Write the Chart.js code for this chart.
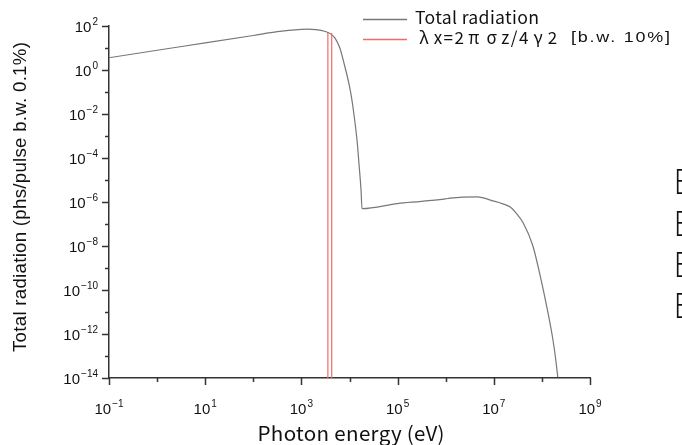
<!DOCTYPE html>
<html>
<head>
<meta charset="utf-8">
<script src="https://cdn.jsdelivr.net/npm/chart.js@4.4.1/dist/chart.umd.min.js"></script>
<style>
  html, body { margin: 0; padding: 0; background: #fff; }
  #wrap { width: 682px; height: 445px; }
</style>
</head>
<body>
<div id="wrap"><canvas id="chartRadiation" width="682" height="445"></canvas></div>
<script>
// Espectro de radiación total (log-log)

// Energía del fotón (eV)
const energies = [
    0.1, 1, 10, 100, 316, 1000, 1320, 2000, 3160, 4000, 5000, 6300, 7900,
    10000, 11200, 12600, 14500, 15800, 17400, 18200,
    1.0e5, 3.16e5, 1.0e6, 1.23e6, 4.5e6, 1.0e7, 1.6e7, 2.2e7, 2.8e7, 4.1e7, 6.5e7,
    9.1e7, 1.29e8, 1.62e8, 1.86e8, 2.14e8
];
// Radiación total (phs/pulse b.w. 0.1%)
const totalRadiation = [
    3.6, 7.9, 17, 37, 55, 70, 72, 69, 56, 45, 28, 10, 1.6,
    0.18, 0.045, 7.1e-3, 5e-4, 5e-5, 3.2e-6, 5e-7,
    8.5e-7, 1.07e-6, 1.4e-6, 1.5e-6, 1.7e-6, 1.1e-6, 8e-7, 5.9e-7, 3.5e-7, 1.1e-7, 1e-8,
    5e-10, 1.4e-11, 1e-12, 1.4e-13, 1.1e-14
];
// Líneas de la banda λx=2πσz/4γ2
const bandEdges = [3550, 4270];
const bandRange = [1e-14, 48];

// Ticks de los ejes (exponentes)
const xTickExps = [-1, 0, 1, 2, 3, 4, 5, 6, 7, 8, 9];
const xLabelExps = [-1, 1, 3, 5, 7, 9];
const yTickExps = [2, 1, 0, -1, -2, -3, -4, -5, -6, -7, -8, -9, -10, -11, -12, -13, -14];
const yLabelExps = [2, 0, -2, -4, -6, -8, -10, -12, -14];

const legendLabels = ['Total radiation', 'λx=2πσz/4γ2', '[b.w. 10%]'];
const xTitle = 'Photon energy (eV)';
const yTitle = 'Total radiation (phs/pulse b.w. 0.1%)';
const sideLetters = ['E', 'E', 'E', 'E'];

const AXIS_COLOR = '#333333';
const CURVE_COLOR = '#777777';
const BAND_COLOR = '#f06a6a';
const GOTHIC = "'Noto Sans CJK JP', 'Noto Sans', sans-serif";
const SANS = "'Liberation Sans', Arial, sans-serif";

// Texto 10^n con superíndice
function drawPower(ctx, exp, x, y, align) {
    ctx.save();
    ctx.font = '15px ' + SANS;
    const base = '10';
    const wb = ctx.measureText(base).width;
    ctx.font = '10px ' + SANS;
    const sup = exp < 0 ? '\u2212' + Math.abs(exp) : String(exp);
    const ws = ctx.measureText(sup).width;
    let left = x;
    if (align === 'right') left = x - wb - ws - 1;
    if (align === 'center') left = x - (wb + ws + 1) / 2;
    ctx.fillStyle = '#111';
    ctx.textAlign = 'left';
    ctx.textBaseline = 'alphabetic';
    ctx.font = '15px ' + SANS;
    ctx.fillText(base, left, y);
    ctx.font = '10px ' + SANS;
    ctx.fillText(sup, left + wb + 1, y - 7);
    ctx.restore();
}

// Texto ajustado a un ancho dado (mitad escala, mitad espaciado)
function fitText(ctx, text, font, x, y, width, align) {
    ctx.save();
    ctx.font = font;
    ctx.textAlign = 'left';
    const w = ctx.measureText(text).width;
    const n = [...text].length;
    let left = x;
    if (align === 'center') left = x - width / 2;
    const s = Math.sqrt(width / w);
    ctx.translate(left, y);
    ctx.scale(s, 1);
    if ('letterSpacing' in ctx) {
        const sp = (width / s - w) / Math.max(n - 1, 1);
        ctx.letterSpacing = sp.toFixed(2) + 'px';
    }
    ctx.fillText(text, 0, 0);
    ctx.restore();
}

// Griegas a ancho completo como en una fuente gótica
function drawWideGreek(ctx, text, font, size, x, y, width) {
    ctx.save();
    ctx.font = font;
    ctx.textAlign = 'left';
    const isGreek = c => /[\u0370-\u03ff]/.test(c);
    let total = 0;
    const adv = [...text].map(c => {
        const a = isGreek(c) ? size : ctx.measureText(c).width + 1;
        total += a;
        return a;
    });
    const k = width / total;
    let cx = x;
    [...text].forEach((c, i) => {
        const gw = ctx.measureText(c).width;
        const a = adv[i] * k;
        ctx.fillText(c, cx + (a - gw) / 2, y);
        cx += a;
    });
    ctx.restore();
}

const axesPlugin = {
    id: 'axesPlugin',
    afterDraw(chart) {
        const ctx = chart.ctx;
        const xs = chart.scales.x;
        const ys = chart.scales.y;
        const area = chart.chartArea;
        ctx.save();
        ctx.strokeStyle = AXIS_COLOR;
        ctx.lineWidth = 1.5;

        // ticks eje Y (hacia afuera)
        yTickExps.forEach(e => {
            const py = Math.round(ys.getPixelForValue(Math.pow(10, e))) + 0.5;
            const len = yLabelExps.includes(e) ? 7 : 4;
            ctx.beginPath();
            ctx.moveTo(area.left, py);
            ctx.lineTo(area.left - len, py);
            ctx.stroke();
        });
        // ticks eje X
        xTickExps.forEach(e => {
            const px = Math.round(xs.getPixelForValue(Math.pow(10, e))) + 0.5;
            const len = xLabelExps.includes(e) ? 7 : 4;
            ctx.beginPath();
            ctx.moveTo(px, area.bottom);
            ctx.lineTo(px, area.bottom + len);
            ctx.stroke();
        });

        yLabelExps.forEach(e => {
            const py = ys.getPixelForValue(Math.pow(10, e));
            drawPower(ctx, e, area.left - 11, py + 6, 'right');
        });
        xLabelExps.forEach(e => {
            const px = xs.getPixelForValue(Math.pow(10, e));
            drawPower(ctx, e, px, area.bottom + 36, 'center');
        });

        // títulos
        ctx.fillStyle = '#111';
        ctx.textBaseline = 'middle';
        fitText(ctx, xTitle, '20px ' + GOTHIC, 351, 433, 187, 'center');

        ctx.save();
        ctx.translate(21, 197);
        ctx.rotate(-Math.PI / 2);
        fitText(ctx, yTitle, '18px ' + SANS, 0, 0, 310, 'center');
        ctx.restore();

        // leyenda
        ctx.lineWidth = 1.3;
        ctx.strokeStyle = CURVE_COLOR;
        ctx.beginPath();
        ctx.moveTo(363, 19.5);
        ctx.lineTo(407, 19.5);
        ctx.stroke();
        ctx.strokeStyle = BAND_COLOR;
        ctx.beginPath();
        ctx.moveTo(363, 39.5);
        ctx.lineTo(407, 39.5);
        ctx.stroke();

        ctx.fillStyle = '#111';
        fitText(ctx, legendLabels[0], '17px ' + GOTHIC, 415, 18, 124, 'left');
        drawWideGreek(ctx, legendLabels[1], '17px ' + GOTHIC, 17, 415, 38, 143);
        fitText(ctx, legendLabels[2], '15px ' + SANS, 571, 38, 99, 'left');

        // letras cortadas a la derecha
        ctx.save();
        ctx.textAlign = 'left';
        ctx.font = "300 34px 'Noto Sans CJK JP', 'DejaVu Sans Condensed', sans-serif";
        [181, 223, 264, 305].forEach((y, i) => {
            ctx.save();
            ctx.translate(674, y);
            ctx.scale(0.8, 1);
            ctx.fillText(sideLetters[i], 0, 0);
            ctx.restore();
        });
        ctx.restore();
        ctx.restore();
    }
};

document.addEventListener('DOMContentLoaded', function() {
    if (typeof Chart === 'undefined') {
        console.error('Chart.js no está cargado');
        return;
    }
    const ctx = document.getElementById('chartRadiation');

    const curve = energies.map((e, i) => ({ x: e, y: totalRadiation[i] }));
    const bandSets = bandEdges.map((e, i) => ({
        label: i === 0 ? legendLabels[1] : '',
        data: bandRange.map(v => ({ x: e, y: v })),
        borderColor: BAND_COLOR,
        borderWidth: 1.2,
        pointRadius: 0,
        tension: 0
    }));

    new Chart(ctx, {
        type: 'line',
        data: {
            datasets: [
                ...bandSets,
                {
                    label: legendLabels[0],
                    data: curve,
                    borderColor: CURVE_COLOR,
                    borderWidth: 1.2,
                    pointRadius: 0,
                    cubicInterpolationMode: 'monotone'
                }
            ]
        },
        options: {
            responsive: false,
            animation: false,
            layout: { padding: { left: 109, right: 92, top: 26, bottom: 67 } },
            plugins: { legend: { display: false }, tooltip: { enabled: false } },
            scales: {
                x: {
                    type: 'logarithmic',
                    min: 0.1,
                    max: 1e9,
                    ticks: { display: false },
                    grid: { display: false, drawTicks: false },
                    border: { display: true, color: AXIS_COLOR, width: 1.5 }
                },
                y: {
                    type: 'logarithmic',
                    min: 1e-14,
                    max: 1e2,
                    ticks: { display: false },
                    grid: { display: false, drawTicks: false },
                    border: { display: true, color: AXIS_COLOR, width: 1.5 }
                }
            }
        },
        plugins: [axesPlugin]
    });
});
</script>
</body>
</html>
